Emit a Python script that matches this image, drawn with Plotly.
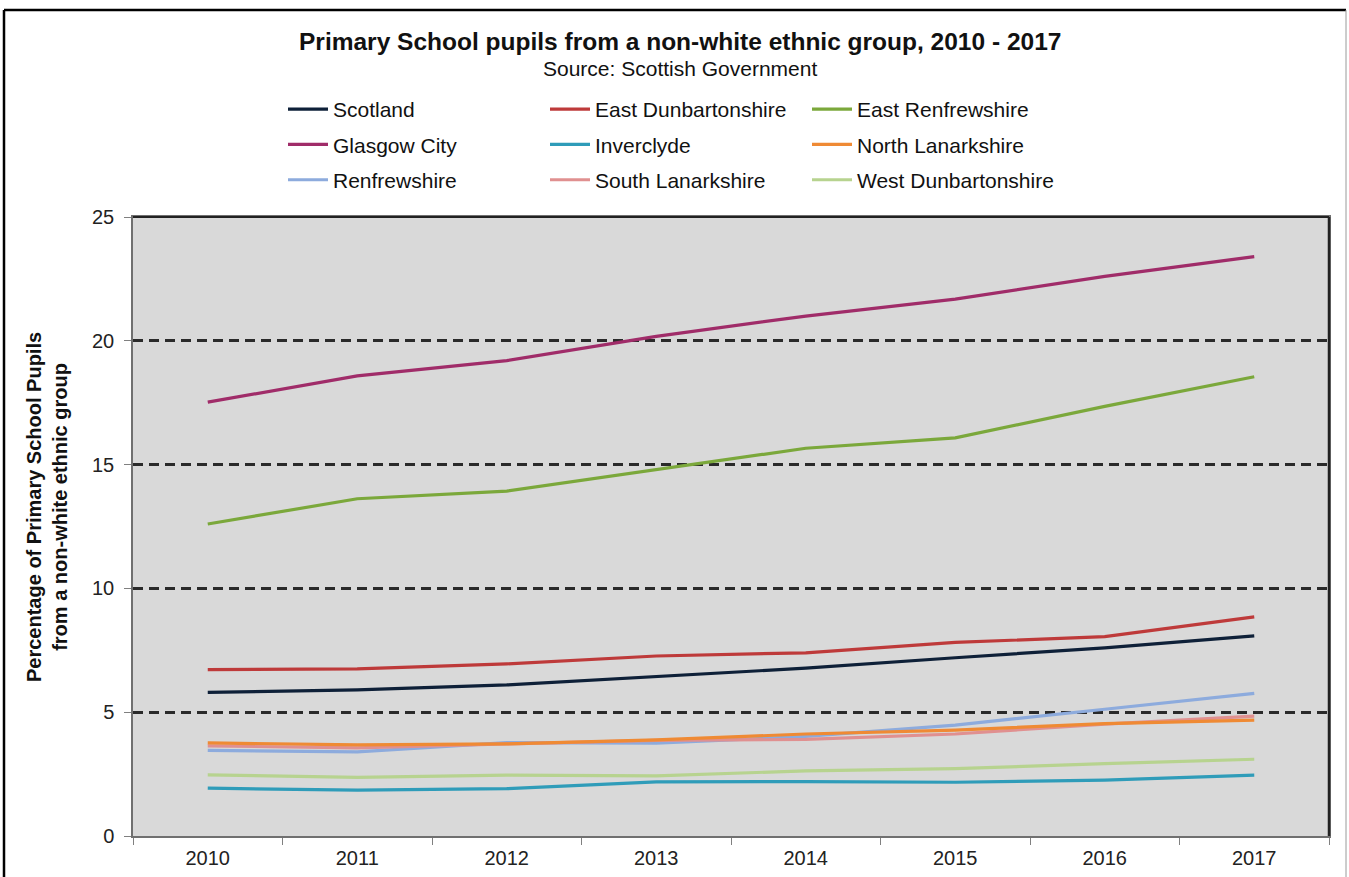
import plotly.graph_objects as go

years = ["2010", "2011", "2012", "2013", "2014", "2015", "2016", "2017"]

scotland = [5.8, 5.9, 6.1, 6.45, 6.78, 7.2, 7.6, 8.08]
east_dunbartonshire = [6.72, 6.75, 6.95, 7.27, 7.4, 7.82, 8.05, 8.85]
east_renfrewshire = [12.6, 13.62, 13.93, 14.8, 15.66, 16.08, 17.35, 18.55]
glasgow_city = [17.52, 18.58, 19.2, 20.18, 21.0, 21.68, 22.6, 23.4]
inverclyde = [1.93, 1.85, 1.91, 2.19, 2.2, 2.17, 2.26, 2.46]
north_lanarkshire = [3.76, 3.68, 3.72, 3.88, 4.12, 4.28, 4.54, 4.68]
renfrewshire = [3.46, 3.4, 3.77, 3.75, 4.02, 4.48, 5.12, 5.76]
south_lanarkshire = [3.64, 3.56, 3.72, 3.86, 3.9, 4.12, 4.52, 4.84]
west_dunbartonshire = [2.47, 2.37, 2.46, 2.43, 2.63, 2.72, 2.92, 3.1]

series = [
    ("Scotland", scotland, "#0E2038", "legend"),
    ("Glasgow City", glasgow_city, "#A02C69", "legend"),
    ("Renfrewshire", renfrewshire, "#8DABDD", "legend"),
    ("East Dunbartonshire", east_dunbartonshire, "#BE3A3A", "legend2"),
    ("Inverclyde", inverclyde, "#2F9CB9", "legend2"),
    ("South Lanarkshire", south_lanarkshire, "#E09090", "legend2"),
    ("East Renfrewshire", east_renfrewshire, "#7BA83B", "legend3"),
    ("North Lanarkshire", north_lanarkshire, "#EF8A34", "legend3"),
    ("West Dunbartonshire", west_dunbartonshire, "#B7D38F", "legend3"),
]

FONT = "Liberation Sans, Arial, sans-serif"

fig = go.Figure()
for name, vals, color, leg in series:
    fig.add_trace(go.Scatter(
        x=years, y=vals, mode="lines", name=name,
        line=dict(color=color, width=3.2),
        legend=leg, legendgroup=name,
    ))

# plot area: x 133..1329, y 217..836
L, R, T, B = 133, 1329, 217, 836
W, H = 1349, 877
pw, ph = R - L, B - T

def px(x):
    return (x - L) / pw

def py(y):
    return (B - y) / ph

leg_common = dict(
    orientation="v", yanchor="top", xanchor="left",
    font=dict(family=FONT, size=21, color="#111"),
    bgcolor="rgba(0,0,0,0)", tracegroupgap=5, itemwidth=40,
)

fig.update_layout(
    width=W, height=H,
    margin=dict(l=L, r=W - R, t=T, b=H - B),
    paper_bgcolor="white",
    plot_bgcolor="#D9D9D9",
    font=dict(family=FONT, size=18, color="#222"),
    showlegend=True,
    legend=dict(x=px(283), y=py(89), **leg_common),
    legend2=dict(x=px(545), y=py(89), **leg_common),
    legend3=dict(x=px(807), y=py(89), **leg_common),
    xaxis=dict(
        type="category", range=[-0.5, 7.5], automargin=False,
        tickson="boundaries", ticks="outside", ticklen=7, tickcolor="#808080",
        showline=True, linecolor="#707070", linewidth=1.5, mirror=True,
        showgrid=False, tickfont=dict(family=FONT, size=20, color="#222"),
        ticklabelstandoff=3,
    ),
    yaxis=dict(
        range=[0, 25], tickvals=[0, 5, 10, 15, 20, 25], automargin=False,
        ticks="outside", ticklen=7, tickcolor="#808080",
        showline=True, linecolor="#707070", linewidth=1.5, mirror=True,
        showgrid=True, gridcolor="#2a2a2a", gridwidth=3, griddash="10px,6px",
        zeroline=False, tickfont=dict(family=FONT, size=20, color="#222"),
        ticklabelstandoff=6,
    ),
    annotations=[
        dict(text="<b>Primary School pupils from a non-white ethnic group, 2010 - 2017</b>",
             x=px(680), y=py(41), xref="paper", yref="paper", showarrow=False,
             xanchor="center", yanchor="middle",
             font=dict(family=FONT, size=24.5, color="#111")),
        dict(text="Source: Scottish Government",
             x=px(680), y=py(68), xref="paper", yref="paper", showarrow=False,
             xanchor="center", yanchor="middle",
             font=dict(family=FONT, size=21, color="#111")),
        dict(text="<b>Percentage of Primary School Pupils<br>from a non-white ethnic group</b>",
             x=px(47), y=py(507), xref="paper", yref="paper", showarrow=False,
             xanchor="center", yanchor="middle", textangle=-90,
             font=dict(family=FONT, size=20, color="#111")),
    ],
    shapes=[
        dict(type="line", xref="paper", yref="paper", x0=px(4), x1=px(4), y0=py(880), y1=py(10),
             line=dict(color="black", width=2.5)),
        dict(type="line", xref="paper", yref="paper", x0=px(4), x1=px(1346), y0=py(10), y1=py(10),
             line=dict(color="black", width=2.5)),
        dict(type="line", xref="paper", yref="paper", x0=px(1346), x1=px(1346), y0=py(880), y1=py(10),
             line=dict(color="#9a9a9a", width=1)),
        dict(type="line", xref="paper", yref="paper", x0=1, x1=1, y0=0, y1=1,
             line=dict(color="#222", width=2.5)),
        dict(type="line", xref="paper", yref="paper", x0=0, x1=1, y0=1, y1=1,
             line=dict(color="#222", width=2)),
    ],
)

fig.write_html("out.html")
